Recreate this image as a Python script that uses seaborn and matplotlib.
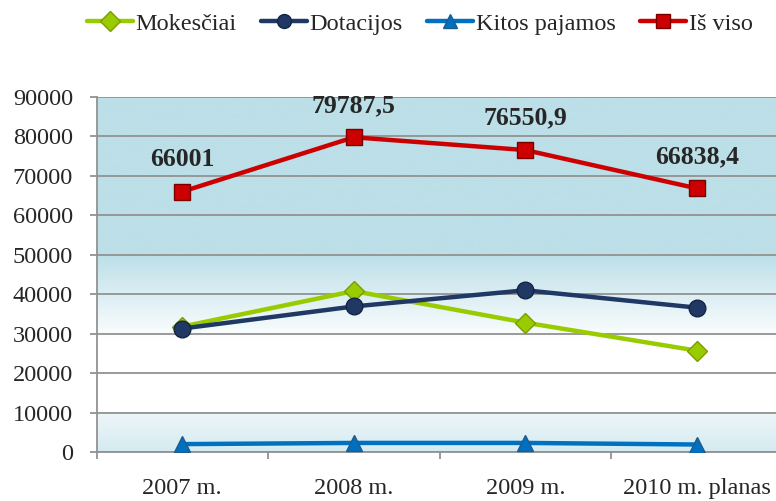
import numpy as np
import pandas as pd
import seaborn as sns
import matplotlib.pyplot as plt
from matplotlib.colors import to_rgb
from matplotlib.lines import Line2D

# data
years = ["2007 m.", "2008 m.", "2009 m.", "2010 m. planas"]
mokesciai = [31800, 40800, 32800, 25700]
dotacijos = [31300, 36900, 41000, 36600]
kitos = [2000, 2300, 2300, 1900]
is_viso = [66001, 79787.5, 76550.9, 66838.4]
is_viso_labels = ["66001", "79787,5", "76550,9", "66838,4"]

series = [
    ("Mokesčiai", mokesciai, "#99CC00", "D", "#7A9E00"),
    ("Dotacijos", dotacijos, "#1F3864", "o", "#142544"),
    ("Kitos pajamos", kitos, "#0070C0", "^", "#1F5C8C"),
    ("Iš viso", is_viso, "#CC0000", "s", "#7A0000"),
]

sns.set_style("white")
plt.rcParams["font.family"] = ["Liberation Serif", "DejaVu Serif"]

fig = plt.figure(figsize=(7.76, 5.01), dpi=100)
ax = fig.add_axes([0.1244, 0.0978, 0.884, 0.7086])

# gradient background of the plot area (bottom -> top)
n = 400
yy = np.linspace(0, 90000, n)
top = np.array(to_rgb("#BCDFE8"))
white = np.array([1.0, 1.0, 1.0])
low_a = np.array(to_rgb("#D5EBF1"))
low_b = np.array(to_rgb("#EEF6F9"))
cols = np.zeros((n, 3))
for i, v in enumerate(yy):
    if v < 10000:
        t = v / 10000
        cols[i] = low_a * (1 - t) + low_b * t
    elif v < 28000:
        cols[i] = white
    elif v < 50000:
        t = (v - 28000) / 22000
        cols[i] = white * (1 - t) + top * t
    else:
        cols[i] = top
img = cols[:, None, :]
ax.imshow(img, extent=[-0.5, 3.5, 0, 90000], origin="lower", aspect="auto", zorder=0)

for name, vals, color, marker, edge in series:
    df = pd.DataFrame({"x": np.arange(len(years)), "y": vals})
    sns.lineplot(data=df, x="x", y="y", ax=ax, color=color, linewidth=3.2,
                 marker=marker, markersize=12 if marker != "D" else 10,
                 markerfacecolor=color, markeredgecolor=edge, markeredgewidth=1,
                 zorder=3)

for i, (v, lab) in enumerate(zip(is_viso, is_viso_labels)):
    ax.annotate(lab, (i, v), xytext=(0, 23), textcoords="offset points",
                ha="center", va="center", fontsize=18.5, fontweight="bold")

ax.set_xlim(-0.5, 3.5)
ax.set_ylim(0, 90000)
ax.set_yticks(np.arange(0, 90001, 10000))
ax.set_xticks(range(len(years)))
ax.set_xticklabels(years)
ax.set_xticks([-0.5, 0.5, 1.5, 2.5, 3.5], minor=True)
ax.set_xlabel("")
ax.set_ylabel("")
ax.grid(axis="y", color="#929292", linewidth=1.3, zorder=1)
ax.set_axisbelow(False)
for s in ["top", "right"]:
    ax.spines[s].set_visible(False)
for s in ["left", "bottom"]:
    ax.spines[s].set_color("#929292")
    ax.spines[s].set_linewidth(1.3)
ax.tick_params(axis="y", which="major", left=True, length=5, width=1.3,
               color="#929292", pad=12, labelsize=17.5)
ax.tick_params(axis="x", which="major", bottom=False, length=0, pad=19, labelsize=17.5)
ax.tick_params(axis="x", which="minor", bottom=True, length=5, width=1.3, color="#929292")

handles = [Line2D([], [], color=c, linewidth=3.2, marker=m, markersize=10,
                  markerfacecolor=c, markeredgecolor=e) for _, _, c, m, e in series]
fig.legend(handles, [s[0] for s in series], loc="center", bbox_to_anchor=(0.541, 0.953),
           ncol=4, frameon=False, fontsize=17.5, handlelength=1.9, handletextpad=0.1,
           columnspacing=1.0)

fig.savefig("out.png", dpi=100)
